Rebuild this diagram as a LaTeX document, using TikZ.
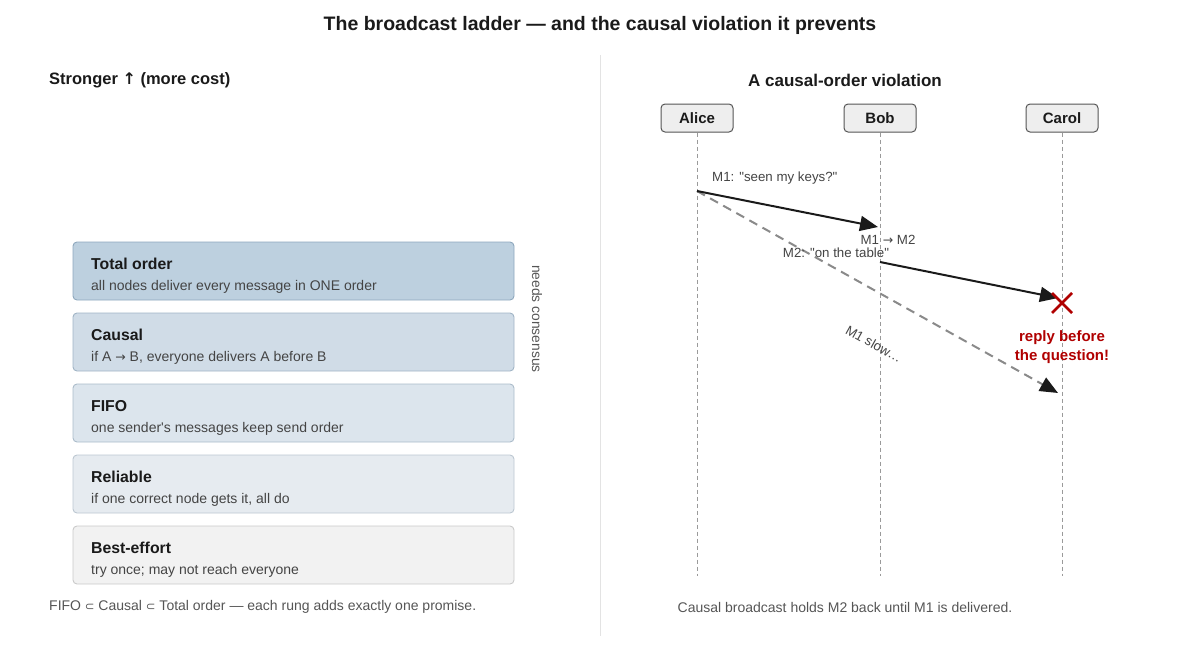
\documentclass[tikz,border=0pt]{standalone}
\usepackage{fontspec}
\setmainfont{Liberation Sans}[Ligatures=TeXOff]
\newfontfamily\symfont{DejaVu Sans}
\usetikzlibrary{arrows.meta}
\usetikzlibrary{calc}
\definecolor{ink}{HTML}{1A1A1A}
\definecolor{sub}{HTML}{444444}
\definecolor{faint}{HTML}{555555}
\definecolor{rule}{HTML}{E3E3E3}
\definecolor{lifegray}{HTML}{9A9A9A}
\definecolor{slowgray}{HTML}{8A8A8A}
\definecolor{actfill}{HTML}{EEEEEE}
\definecolor{actline}{HTML}{555555}
\definecolor{alarm}{HTML}{B00000}
\definecolor{totfill}{HTML}{BDD0DF}\definecolor{totline}{HTML}{8EA8BD}
\definecolor{caufill}{HTML}{D0DCE7}\definecolor{cauline}{HTML}{A0B4C5}
\definecolor{fifofill}{HTML}{DCE5ED}\definecolor{fifoline}{HTML}{ABBCCA}
\definecolor{relfill}{HTML}{E6EBF0}\definecolor{relline}{HTML}{BCC7D1}
\definecolor{bestfill}{HTML}{F2F2F2}\definecolor{bestline}{HTML}{CACACA}
\newcommand{\rarr}{{\symfont\fontsize{12.5}{14}\selectfont →}}
\newcommand{\subs}{{\symfont\fontsize{11.5}{13}\selectfont ⊂}}

\begin{document}
\begin{tikzpicture}[x=1pt,y=-1pt,
	rung/.style={rounded corners=4pt, minimum width=441pt, minimum height=58pt, line width=0.9pt},
	head/.style={anchor=west, inner sep=0pt, font=\fontsize{15.8}{18}\selectfont\bfseries, text=ink},
	note/.style={anchor=west, inner sep=0pt, font=\fontsize{14}{16}\selectfont, text=sub},
	actor/.style={draw=actline, fill=actfill, rounded corners=4pt, minimum width=72pt, minimum height=28pt, line width=1pt, font=\fontsize{15}{17}\selectfont\bfseries, text=ink},
	life/.style={draw=lifegray, line width=0.8pt, dash pattern=on 4pt off 3pt},
	msg/.style={draw=ink, line width=2pt, -{Triangle[length=18pt,width=15pt]}},
	lbl/.style={inner sep=0pt, font=\fontsize{13.3}{15}\selectfont, text=sub}]
					\useasboundingbox (0,0) rectangle (1200,662);
					% titles
					\node[font=\fontsize{19.5}{22}\selectfont\bfseries, text=ink] (title) at (600,25) {The broadcast ladder — and the causal violation it prevents};
					\node[anchor=west, inner sep=0pt, font=\fontsize{16.5}{18}\selectfont\bfseries, text=ink] (lhead) at (49,80) {Stronger {\symfont\fontsize{16}{18}\selectfont ↑} (more cost)};
					\node[font=\fontsize{17}{19}\selectfont\bfseries, text=ink] (rhead) at (845,80) {A causal-order violation};
					\coordinate (dtop) at (600,55);
					\coordinate (dbot) at (600,636);
					\draw[rule, line width=1pt] (dtop) -- (dbot);
					% ladder
					\node[rung, fill=totfill, draw=totline] (tot) at (293.5,271) {};
					\node[rung, fill=caufill, draw=cauline] (cau) at (293.5,342) {};
					\node[rung, fill=fifofill, draw=fifoline] (fifo) at (293.5,413) {};
					\node[rung, fill=relfill, draw=relline] (rel) at (293.5,484) {};
					\node[rung, fill=bestfill, draw=bestline] (best) at (293.5,555) {};
					\node[head] (totT) at (91,264) {Total order};
					\node[note] (totS) at (91,287) {all nodes deliver every message in ONE order};
					\node[head] (cauT) at (91,335) {Causal};
					\node[note] (cauS) at (91,358) {if A \rarr{} B, everyone delivers A before B};
					\node[head] (fifoT) at (91,406) {FIFO};
					\node[note] (fifoS) at (91,429) {one sender's messages keep send order};
					\node[head] (relT) at (91,477) {Reliable};
					\node[note] (relS) at (91,500) {if one correct node gets it, all do};
					\node[head] (bestT) at (91,548) {Best-effort};
					\node[note] (bestS) at (91,571) {try once; may not reach everyone};
					\node[rotate=-90, inner sep=0pt, font=\fontsize{13.8}{16}\selectfont, text=faint] (cons) at (537,319) {needs consensus};
					\node[anchor=west, inner sep=0pt, font=\fontsize{14}{16}\selectfont, text=faint] (lfoot) at (49,607) {FIFO \subs{} Causal \subs{} Total order — each rung adds exactly one promise.};
					% sequence
					\node[actor] (alice) at (697,118) {Alice};
					\node[actor] (bob) at (880,118) {Bob};
					\node[actor] (carol) at (1062,118) {Carol};
					\coordinate (aliceEnd) at (697,576);
					\coordinate (bobEnd) at (880,576);
					\coordinate (carolEnd) at (1062,576);
					\draw[life] (alice) -- (aliceEnd);
					\draw[life] (bob) -- (bobEnd);
					\draw[life] (carol) -- (carolEnd);
					\coordinate (m1out) at (697,191);
					\coordinate (m1in) at (878,227);
					\coordinate (m2out) at (880,262);
					\coordinate (m2in) at (1058,298);
					\coordinate (slowin) at (1058,393);
					\draw[draw=slowgray, line width=2pt, dash pattern=on 9pt off 6pt, -{Triangle[length=18pt,width=15pt,color=ink]}] (m1out) -- (slowin);
					\draw[msg] (m1out) -- (m1in);
					\draw[msg] (m2out) -- (m2in);
					\node[lbl, anchor=west] (m1lbl) at (712,178) {M1: "seen my keys?"};
					\node[lbl] (order) at (888,240) {M1 \rarr{} M2};
					\node[lbl] (m2lbl) at (836,253) {M2: "on the table"};
					\node[lbl, rotate=-29] (slow) at (874,344) {M1 slow…};
					\coordinate (xa) at (1052,293);
					\coordinate (xb) at (1072,313);
					\coordinate (xc) at (1052,313);
					\coordinate (xd) at (1072,293);
					\draw[alarm, line width=2.5pt] (xa) -- (xb) (xc) -- (xd);
					\node[align=center, inner sep=0pt, font=\fontsize{15}{19.5}\selectfont\bfseries, text=alarm] (oops) at (1062,347) {reply before\\the question!};
					\node[inner sep=0pt, font=\fontsize{14}{16}\selectfont, text=faint] (rfoot) at (845,607) {Causal broadcast holds M2 back until M1 is delivered.};
					\end{tikzpicture}
\end{document}
